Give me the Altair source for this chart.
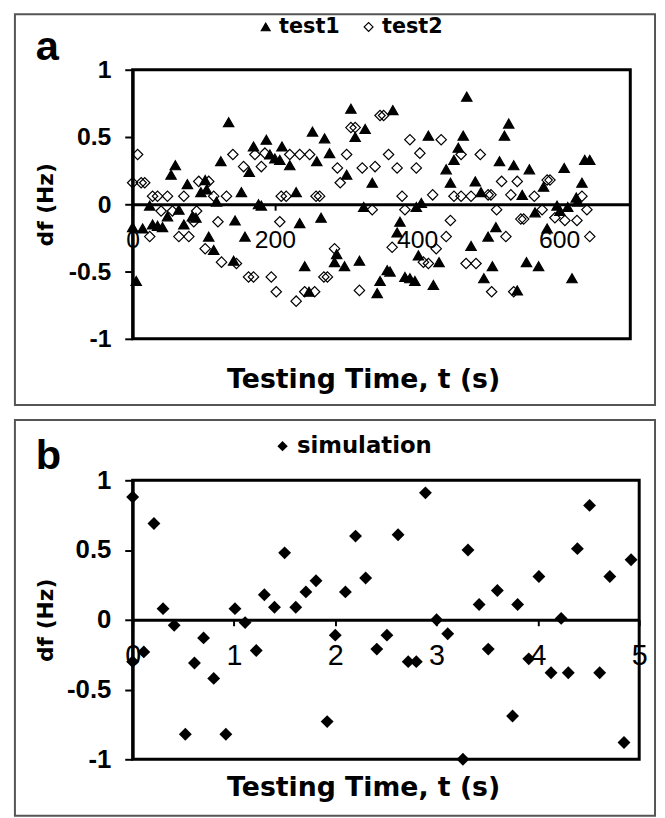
import altair as alt
import pandas as pd

# ---------------- data ----------------
test1_t = [5, 0, 14, 28, 35, 42, 24, 49, 54, 60, 65, 72, 77, 84, 89, 96, 102, 104, 107, 114,
           118, 124, 135, 144, 142, 153, 158, 164, 170, 177, 181, 188, 193, 200, 207, 210, 221,
           230, 235, 242, 248, 253, 259, 265, 270, 277, 287, 284, 298, 301, 307, 313, 319, 325,
           327, 366, 337, 344, 348, 358, 362, 376, 372, 383, 390, 397, 402, 399, 406, 416, 423,
           431, 441, 447, 452, 458, 465, 470, 476, 482, 490, 494, 500, 506, 511, 516, 523, 529,
           536, 541, 548, 554, 558, 566, 571, 578, 583, 597, 601, 607, 612, 618, 624, 626, 632,
           636, 643]
test1_df = [-0.57, -0.17, -0.18, -0.15, -0.16, -0.17, -0.01, -0.09, 0.22, 0.29, -0.04, -0.15,
            0.15, -0.09, -0.10, 0.09, 0.18, 0.11, -0.24, -0.34, 0.02, 0.32, 0.61, -0.12, -0.42,
            0.09, -0.24, 0.24, 0.43, 0.0, -0.01, 0.48, 0.37, 0.34, 0.33, 0.43, 0.29, 0.09, -0.14,
            -0.46, -0.65, 0.54, 0.32, -0.10, 0.49, 0.38, -0.37, -0.43, -0.46, 0.22, 0.71, 0.50,
            -0.42, -0.02, 0.56, 0.70, 0.16, -0.66, -0.57, -0.49, -0.50, -0.13, -0.21, -0.54,
            -0.55, -0.57, -0.38, -0.02, 0.01, 0.51, -0.60, -0.43, 0.26, 0.16, 0.33, 0.42, 0.51,
            0.80, -0.31, 0.17, 0.09, -0.55, -0.24, -0.46, -0.17, 0.32, 0.51, 0.60, 0.29, -0.64,
            0.07, -0.43, 0.26, -0.06, -0.46, 0.13, -0.18, -0.01, -0.05, 0.27, -0.02, -0.55, 0.05,
            0.02, 0.16, 0.33, 0.33]

test2_t = [7, 0, 12, 17, 28, 35, 49, 24, 40, 56, 65, 72, 79, 86, 90, 93, 107, 114, 102, 120,
           125, 132, 141, 146, 156, 163, 170, 172, 181, 186, 195, 202, 207, 209, 216, 221, 230,
           235, 242, 249, 256, 258, 263, 269, 274, 284, 288, 292, 301, 307, 313, 319, 323, 348,
           353, 341, 360, 372, 379, 337, 383, 390, 399, 404, 365, 409, 416, 422, 427, 434, 441,
           447, 452, 462, 462, 469, 483, 476, 489, 500, 504, 505, 512, 519, 525, 532, 536, 541,
           546, 550, 565, 576, 583, 587, 594, 608, 625, 632, 639, 643]
test2_df = [0.37, 0.16, 0.16, 0.16, 0.06, 0.06, 0.06, -0.24, -0.05, -0.05, -0.24, 0.06, -0.24,
            -0.13, -0.05, 0.17, 0.17, 0.06, -0.33, -0.13, -0.43, 0.06, 0.37, -0.44, 0.28, -0.54,
            -0.54, 0.37, 0.28, 0.38, -0.54, -0.65, -0.13, 0.06, 0.06, 0.37, -0.72, 0.37, -0.65,
            0.37, -0.65, 0.06, 0.06, -0.54, -0.54, -0.33, 0.27, 0.16, 0.37, 0.57, 0.57, -0.64,
            0.27, 0.66, 0.66, 0.28, 0.37, 0.27, 0.06, -0.04, -0.04, 0.48, 0.27, 0.38, -0.32,
            -0.43, -0.44, 0.07, -0.33, 0.48, -0.24, -0.12, 0.06, 0.06, 0.37, -0.44, -0.44, 0.06,
            0.37, 0.07, 0.07, -0.65, -0.04, 0.17, -0.24, 0.07, -0.65, 0.17, -0.11, -0.11, 0.06,
            -0.04, 0.18, 0.18, -0.10, -0.12, -0.12, 0.06, -0.04, -0.24]

sim_t = [0.0, 0.0, 0.11, 0.21, 0.30, 0.41, 0.52, 0.61, 0.70, 0.80, 0.92, 1.01, 1.11, 1.22,
         1.30, 1.40, 1.50, 1.61, 1.71, 1.81, 1.92, 2.00, 2.10, 2.20, 2.30, 2.41, 2.51, 2.62,
         2.72, 2.80, 2.89, 3.00, 3.11, 3.26, 3.31, 3.42, 3.51, 3.60, 3.75, 3.80, 3.91, 4.01,
         4.13, 4.23, 4.30, 4.39, 4.51, 4.61, 4.71, 4.85, 4.92]
sim_df = [0.88, -0.30, -0.23, 0.69, 0.08, -0.04, -0.82, -0.31, -0.13, -0.42, -0.82, 0.08,
          -0.02, -0.22, 0.18, 0.09, 0.48, 0.09, 0.20, 0.28, -0.73, -0.11, 0.20, 0.60, 0.30,
          -0.21, -0.11, 0.61, -0.30, -0.30, 0.91, 0.00, -0.10, -1.00, 0.50, 0.11, -0.21, 0.21,
          -0.69, 0.11, -0.28, 0.31, -0.38, 0.01, -0.38, 0.51, 0.82, -0.38, 0.31, -0.88, 0.43]

a_xticks = [0, 200, 400, 600]
b_xticks = [0, 1, 2, 3, 4, 5]
y_ticks = [-1, -0.5, 0, 0.5, 1]
a_series = ["test1", "test2"]
b_series = ["simulation"]

FONT = "Liberation Sans, Arial, sans-serif"
WIDE = "DejaVu Sans, Liberation Sans, sans-serif"

WA, HA = 503, 272
WB, HB = 512, 282

df_a = pd.DataFrame({
    "t": test1_t + test2_t,
    "df": test1_df + test2_df,
    "series": ["test1"] * len(test1_t) + ["test2"] * len(test2_t),
})
df_b = pd.DataFrame({"t": sim_t, "df": sim_df, "series": ["simulation"] * len(sim_t)})
one = pd.DataFrame({"k": [0]})


def y_axis(H, size):
    return alt.Axis(values=y_ticks, labelExpr="'' + datum.value", grid=False,
                    domainColor="black", domainWidth=3, tickColor="black", tickWidth=2,
                    tickSize=8, labelPadding=14, labelFont=FONT, labelFontSize=size,
                    labelFontWeight="bold", labelColor="black",
                    title="df (Hz)", titleFont=WIDE, titleFontSize=22, titleFontWeight="bold",
                    titleColor="black", titleAngle=-90, titleX=-88, titleY=H / 2,
                    titleAlign="center", titleBaseline="middle")


def x_axis(ticks, H, size, pad, title_y):
    return alt.Axis(values=ticks, offset=-H / 2, grid=False, domainColor="black",
                    domainWidth=3, tickColor="black", tickWidth=2, tickSize=6,
                    labelFont=FONT, labelFontSize=size, labelFontWeight="normal",
                    labelColor="black", labelPadding=pad, labelFlush=False,
                    labelOverlap=False,
                    title="Testing Time, t (s)", titleFont=WIDE, titleFontSize=27,
                    titleFontWeight="bold", titleColor="black", titleX=233, titleY=title_y,
                    titleAlign="center", titleBaseline="alphabetic")


def frame(top, bottom):
    return alt.Chart(one).mark_rect(fill="transparent", stroke="#555", strokeWidth=2).encode(
        x=alt.value(-119), x2=alt.value(528), y=alt.value(top), y2=alt.value(bottom))


def plot_box(W, H):
    return alt.Chart(one).mark_rect(fill="transparent", stroke="black", strokeWidth=3).encode(
        x=alt.value(0), x2=alt.value(W), y=alt.value(0), y2=alt.value(H))


def letter(ch, y):
    return alt.Chart(one).mark_text(align="left", baseline="alphabetic", font=FONT,
                                    fontSize=42, fontWeight="bold", color="black").encode(
        x=alt.value(-98), y=alt.value(y), text=alt.value(ch))


leg_a = alt.Legend(orient="none", legendX=124, legendY=-54, direction="horizontal",
                   title=None, labelFont=WIDE, labelFontSize=21, labelFontWeight="bold",
                   labelColor="black", symbolSize=80, symbolStrokeColor="black",
                   symbolStrokeWidth=1.2, columnPadding=18, labelOffset=3, padding=0)

points_a = alt.Chart(df_a).mark_point(filled=True, opacity=1, strokeWidth=1.2, size=110).encode(
    x=alt.X("t:Q", scale=alt.Scale(domain=[0, 700], nice=False),
            axis=x_axis(a_xticks, HA, 25, 18, 185)),
    y=alt.Y("df:Q", scale=alt.Scale(domain=[-1, 1], nice=False), axis=y_axis(HA, 25)),
    shape=alt.Shape("series:N", scale=alt.Scale(domain=a_series,
                                                range=["triangle-up", "diamond"]), legend=leg_a),
    fill=alt.Fill("series:N", scale=alt.Scale(domain=a_series, range=["black", "transparent"]),
                  legend=leg_a),
    stroke=alt.Stroke("series:N", scale=alt.Scale(domain=a_series, range=["black", "black"]),
                      legend=leg_a),
)

panel_a = alt.layer(frame(-56, 339), plot_box(WA, HA), points_a, letter("a", -10)).properties(
    width=WA, height=HA)

leg_b = alt.Legend(orient="none", legendX=140, legendY=-46, direction="horizontal",
                   title=None, labelFont=WIDE, labelFontSize=23, labelFontWeight="bold",
                   labelColor="black", symbolSize=110, symbolFillColor="black",
                   symbolStrokeColor="black", labelOffset=3, padding=0)

points_b = alt.Chart(df_b).mark_point(filled=True, opacity=1, color="black", size=170).encode(
    x=alt.X("t:Q", scale=alt.Scale(domain=[0, 5], nice=False),
            axis=x_axis(b_xticks, HB, 29, 16, 178)),
    y=alt.Y("df:Q", scale=alt.Scale(domain=[-1, 1], nice=False), axis=y_axis(HB, 26)),
    shape=alt.Shape("series:N", scale=alt.Scale(domain=b_series, range=["diamond"]),
                    legend=leg_b),
)

panel_b = alt.layer(frame(-61, 339), plot_box(WB, HB), points_b, letter("b", -11)).properties(
    width=WB, height=HB)

chart = alt.vconcat(panel_a, panel_b, spacing=11).resolve_scale(
    shape="independent", fill="independent", stroke="independent",
    x="independent", y="independent"
).resolve_legend(shape="independent", fill="independent", stroke="independent").properties(
    padding={"left": 5, "top": 0, "right": 0, "bottom": 0}
).configure_view(stroke=None).configure(background="white")

chart.save("out.html", embed_options={"renderer": "svg", "actions": False})
